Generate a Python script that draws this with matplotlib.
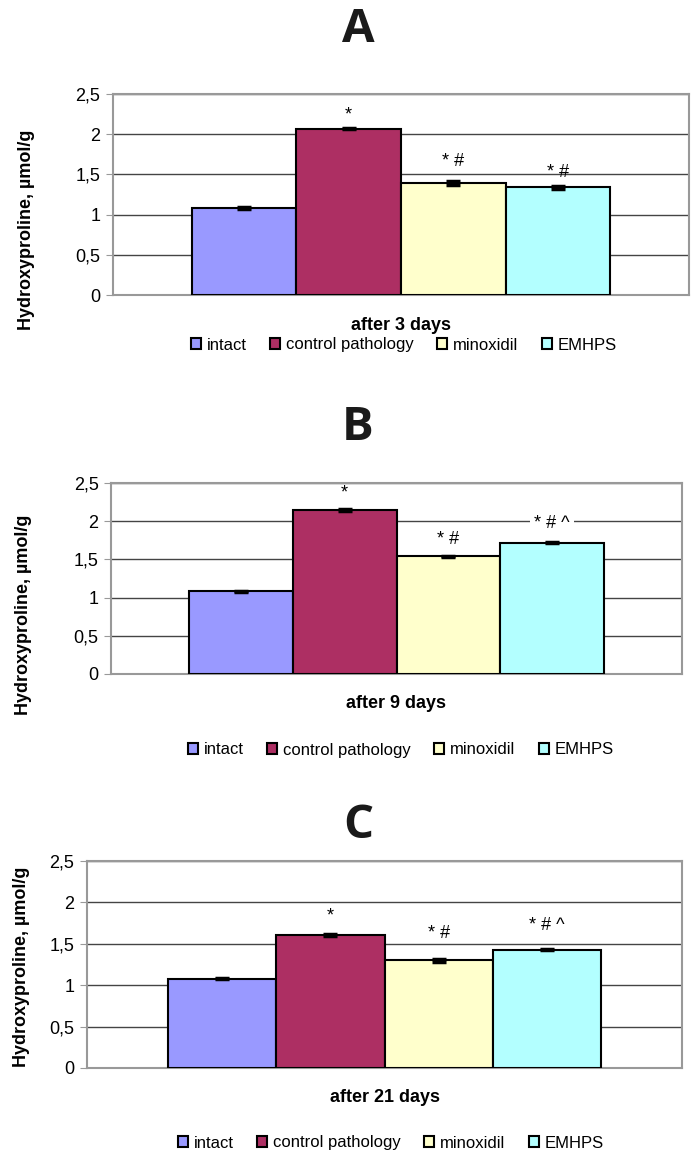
import numpy as np
import matplotlib
matplotlib.use("Agg")
import matplotlib.pyplot as plt
from matplotlib.patches import Patch

plt.rcParams['font.family'] = ['Liberation Sans', 'DejaVu Sans']

groups = ["intact", "control pathology", "minoxidil", "EMHPS"]
colors = ["#9999FF", "#AD2F63", "#FFFFCC", "#B3FFFF"]

days = ["after 3 days", "after 9 days", "after 21 days"]
letters = ["A", "B", "C"]

values_3 = [1.08, 2.07, 1.39, 1.34]
err_3 = [0.01, 0.01, 0.025, 0.02]
marks_3 = ["", "*", "* #", "* #"]

values_9 = [1.08, 2.15, 1.54, 1.72]
err_9 = [0.01, 0.01, 0.01, 0.01]
marks_9 = ["", "*", "* #", "* # ^"]

values_21 = [1.08, 1.61, 1.30, 1.43]
err_21 = [0.01, 0.01, 0.015, 0.01]
marks_21 = ["", "*", "* #", "* # ^"]

yticks = [0, 0.5, 1, 1.5, 2, 2.5]
ytick_labels = ["0", "0,5", "1", "1,5", "2", "2,5"]

# layout (pixels in the 696x1155 figure)
W, H = 696, 1155
panels = [
    # axes left, top, right, bottom; label offsets above bars; title y; ylabel x,y; xlabel y; legend y,x
    dict(box=(113, 94, 689, 295), off=[0, 0.17, 0.27, 0.18], ty=30, yl=(27, 230), xl=325, lg=(345, 404)),
    dict(box=(111, 483, 682, 674), off=[0, 0.22, 0.22, 0.25], ty=428, yl=(24, 615), xl=703, lg=(750, 401)),
    dict(box=(87, 861, 682, 1068), off=[0, 0.23, 0.32, 0.29], ty=825, yl=(22, 967), xl=1097, lg=(1143, 391)),
]
data = [(values_3, err_3, marks_3), (values_9, err_9, marks_9), (values_21, err_21, marks_21)]

fig = plt.figure(figsize=(W / 100, H / 100), dpi=100)

for p, (vals, errs, marks), day, letter in zip(panels, data, days, letters):
    l, t, r, b = p["box"]
    ax = fig.add_axes([l / W, 1 - b / H, (r - l) / W, (b - t) / H])
    x = np.arange(len(groups))
    ax.bar(x, vals, width=1.0, color=colors, edgecolor="black", linewidth=1.5, zorder=3)
    ax.errorbar(x, vals, yerr=errs, fmt="none", ecolor="black", elinewidth=1.5,
                capsize=5, capthick=2.5, zorder=4)
    for xi, v, m, o in zip(x, vals, marks, p["off"]):
        if m:
            box = dict(facecolor="white", edgecolor="none", pad=3) if "^" in m and letter == "B" else None
            ax.text(xi, v + o, m, ha="center", va="center", fontsize=13, bbox=box, zorder=5)
    ax.set_xlim(-1.25, 4.25)
    ax.set_ylim(0, 2.5)
    ax.set_yticks(yticks)
    ax.set_yticklabels(ytick_labels, fontsize=13)
    ax.set_xticks([])
    ax.yaxis.grid(True, color="#444444", linewidth=1)
    ax.set_axisbelow(True)
    for s in ax.spines.values():
        s.set_color("#999999")
        s.set_linewidth(1.5)
    ax.tick_params(axis="y", length=5, color="#999999", pad=4)

    fig.text(358 / W, 1 - p["ty"] / H, letter, ha="center", va="center",
             fontsize=34, fontweight="bold", family="Open Sans", color="#1a1a1a")
    fig.text(p["yl"][0] / W, 1 - p["yl"][1] / H, "Hydroxyproline, µmol/g", rotation=90,
             ha="center", va="center", fontsize=13, fontweight="bold")
    fig.text((l + r) / 2 / W, 1 - p["xl"] / H, day, ha="center", va="center",
             fontsize=13, fontweight="bold")
    handles = [Patch(facecolor=c, edgecolor="black", linewidth=1.5) for c in colors]
    fig.legend(handles, groups, loc="center", ncol=4, frameon=False, fontsize=12,
               bbox_to_anchor=(p["lg"][1] / W, 1 - p["lg"][0] / H),
               handlelength=0.6, handleheight=0.6, handletextpad=0.35, columnspacing=1.4)

fig.savefig("out.png", dpi=100)
